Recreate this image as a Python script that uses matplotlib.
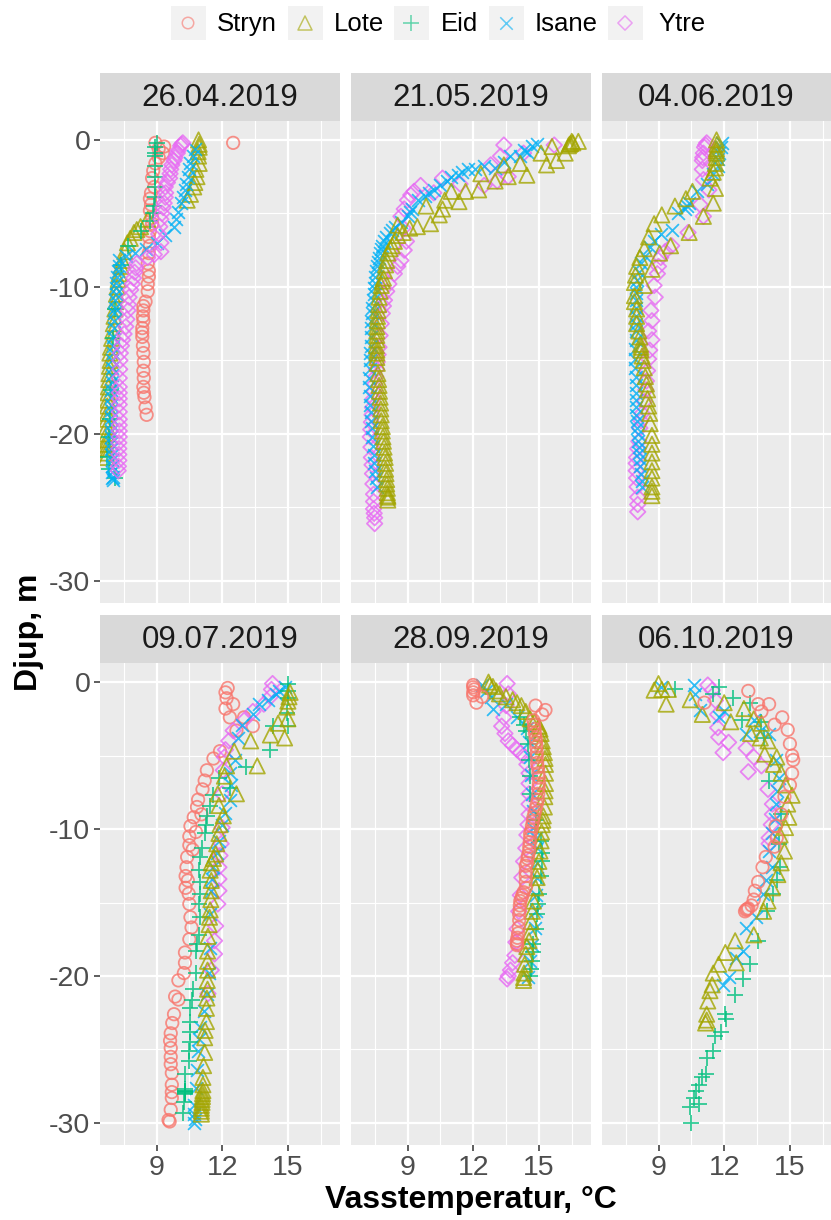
import matplotlib
matplotlib.use('Agg')
import matplotlib.pyplot as plt
from matplotlib.patches import Rectangle

plt.rcParams['font.family'] = ['Liberation Sans', 'DejaVu Sans']

# (temperature, depth), one list per site and date
stryn_0426 = [(12.5,-0.2),(8.95,-0.2),(9.35,-0.45),(9.1,-0.6),(9.3,-0.9),(9.1,-1.2),(8.95,-1.6),(8.85,-2.1),(8.8,-2.6),(8.9,-3.2),(8.75,-3.6),(8.7,-4),(8.75,-4.4),(8.7,-4.8),(8.8,-5.3),(8.8,-5.7),(8.7,-6.2),(8.65,-6.6),(8.7,-7.2),(8.65,-7.7),(8.6,-8.4),(8.65,-8.9),(8.65,-9.3),(8.6,-9.8),(8.6,-10.3),(8.5,-11),(8.4,-11.3),(8.4,-11.6),(8.38,-12),(8.4,-12.3),(8.35,-12.8),(8.35,-13.1),(8.35,-13.4),(8.38,-14),(8.4,-14.5),(8.42,-15.1),(8.4,-15.7),(8.42,-16.2),(8.4,-16.8),(8.42,-17.2),(8.45,-17.5),(8.5,-18.2),(8.55,-18.7)]
lote_0426 = [(10.92,0),(10.95,-0.3),(10.95,-0.5),(10.9,-0.8),(10.92,-1.1),(10.95,-1.6),(10.8,-2),(10.85,-2.5),(10.75,-2.9),(10.7,-3.2),(10.55,-3.7),(10.4,-4.1),(8.6,-5.4),(8.27,-5.9),(8.1,-6.1),(7.97,-6.3),(7.8,-6.7),(7.67,-7),(7.55,-7.6),(7.44,-8.2),(7.38,-8.6),(7.3,-9.1),(7.25,-9.5),(7.2,-10),(7.17,-10.5),(7.14,-11),(7.1,-11.5),(7.06,-12),(7.03,-12.5),(7,-13),(6.95,-13.5),(6.9,-14.1),(6.87,-14.5),(6.88,-15),(6.85,-15.4),(6.83,-15.9),(6.82,-16.3),(6.8,-16.8),(6.78,-17.2),(6.76,-17.7),(6.75,-18.1),(6.74,-18.6),(6.73,-19),(6.73,-19.5),(6.72,-20),(6.72,-20.4),(6.7,-20.7),(6.7,-21),(6.7,-21.3),(6.7,-21.6)]
eid_0426 = [(9,-0.2),(8.95,-0.5),(8.95,-0.9),(8.95,-1.1),(8.93,-1.8),(8.95,-2.5),(8.95,-3.2),(8.92,-3.9),(8.9,-4.5),(8.85,-5),(8.7,-5.5),(8.27,-6.2),(7.7,-7.2),(7.4,-8.5),(7.1,-11.5),(7,-13.5),(6.9,-17),(6.87,-19),(6.85,-20.2),(6.75,-21.6),(6.85,-22.4),(7.1,-23)]
isane_0426 = [(10.75,-0.6),(10.65,-1.1),(10.55,-1.6),(10.5,-2),(10.45,-2.5),(10.35,-3),(10.3,-3.4),(10.2,-3.9),(10.1,-4.3),(10,-4.9),(9.9,-5.4),(9.8,-5.9),(9.4,-6.5),(9,-7),(8.5,-7.4),(8,-7.7),(7.6,-7.9),(7.3,-8.2),(7.28,-8.6),(7.25,-8.9),(7.2,-9.3),(7.15,-9.7),(7.15,-10.1),(7.15,-10.5),(7.12,-10.9),(7.1,-11.4),(7.08,-11.8),(7.05,-12.3),(7.04,-12.8),(7.02,-13.4),(7,-14),(7,-14.5),(6.99,-15),(6.98,-15.5),(6.96,-16),(6.95,-16.5),(6.92,-17),(6.9,-17.5),(6.9,-18),(6.9,-18.4),(6.9,-18.9),(6.9,-19.3),(6.9,-19.8),(6.9,-20.2),(6.92,-20.6),(6.92,-21),(6.95,-21.4),(6.95,-21.8),(6.98,-22.2),(6.98,-22.6),(7,-22.9),(7,-23.1),(6.95,-23)]
ytre_0426 = [(10.2,-0.2),(10.15,-0.3),(10.1,-0.4),(10,-0.7),(9.95,-0.9),(9.85,-1.2),(9.8,-1.4),(9.7,-1.7),(9.65,-2),(9.62,-2.3),(9.6,-2.6),(9.5,-2.9),(9.4,-3.2),(9.42,-3.6),(9.4,-3.9),(9.35,-4.3),(9.3,-4.6),(9.25,-5),(9.2,-5.4),(9.15,-5.9),(9.1,-6.4),(9.2,-7),(9.2,-7.6),(8.9,-7.8),(8.6,-8),(8.1,-8.4),(8.05,-8.7),(8,-9),(7.95,-9.4),(7.9,-9.8),(7.82,-10.2),(7.75,-10.7),(7.72,-11.2),(7.7,-11.6),(7.65,-12.2),(7.6,-12.7),(7.52,-13.2),(7.45,-13.6),(7.4,-14),(7.35,-14.5),(7.33,-15),(7.32,-15.6),(7.3,-16.2),(7.3,-16.8),(7.3,-17.2),(7.3,-17.6),(7.3,-18),(7.3,-18.5),(7.3,-19),(7.3,-19.4),(7.3,-19.8),(7.3,-20.2),(7.28,-20.6),(7.28,-21),(7.28,-21.4),(7.28,-21.8),(7.26,-22.2),(7.25,-22.5)]

lote_0521 = [(16.8,-0.1),(16.55,-0.2),(16.45,-0.25),(16.4,-0.3),(16.35,-0.4),(16.5,-0.1),(16.2,-0.9),(15.8,-1.4),(15.6,-0.45),(15.35,-1.7),(15.1,-0.9),(14.45,-2.4),(14.15,-1.6),(13.6,-2.5),(13.4,-1.7),(13,-2.8),(12.35,-2.3),(12.25,-3.4),(11.65,-3.5),(11.35,-4.2),(11,-3.5),(10.7,-4.1),(10.6,-4.7),(10.45,-5.1),(10.05,-5.7),(9.85,-4.5),(9.45,-5.9),(9.1,-6),(8.8,-6.3),(8.55,-5.8),(8.55,-6.5),(8.4,-6.9),(8.3,-7.2),(8.2,-7.4),(8.1,-7.7),(8.05,-8.2),(8,-8.5),(7.95,-8.9),(7.9,-9.4),(7.85,-9.6),(7.8,-9.9),(7.75,-10.3),(7.7,-10.7),(7.68,-11.2),(7.65,-11.6),(7.63,-12),(7.62,-12.3),(7.6,-12.7),(7.6,-13),(7.6,-13.3),(7.6,-13.6),(7.58,-14),(7.6,-14.3),(7.6,-14.5),(7.6,-14.8),(7.62,-15.2),(7.65,-15.9),(7.68,-16.3),(7.7,-16.7),(7.72,-17.1),(7.75,-17.5),(7.77,-17.9),(7.78,-18.3),(7.8,-18.7),(7.8,-19.1),(7.85,-19.5),(7.85,-19.8),(7.88,-20.2),(7.9,-20.5),(7.93,-20.9),(7.95,-21.3),(7.98,-21.6),(8,-22),(8,-22.4),(8.02,-22.7),(8.05,-23.1),(8.05,-23.4),(8.08,-23.7),(8.08,-24),(8.1,-24.2),(8.1,-24.3),(8.1,-24.5)]
isane_0521 = [(14.9,-0.3),(14.7,-0.4),(14.45,-0.8),(14.3,-0.7),(14.15,-1.1),(13.7,-1.1),(13.4,-1.5),(13,-1.9),(12.5,-1.8),(12.1,-2),(11.75,-2),(11.5,-2.2),(11.3,-2.4),(11,-2.5),(10.8,-2.8),(10.5,-3.1),(10.2,-3.4),(10,-3.6),(9.8,-3.8),(9.5,-4.1),(9.2,-4.7),(9.1,-4.9),(9,-5.2),(8.7,-5.6),(8.45,-5.9),(8.3,-6.1),(8.2,-6.3),(8,-6.6),(7.92,-6.9),(7.85,-7.2),(7.8,-7.4),(7.75,-7.7),(7.7,-8),(7.65,-8.3),(7.6,-8.6),(7.55,-8.9),(7.52,-9.3),(7.5,-9.7),(7.47,-10.1),(7.45,-10.5),(7.42,-10.9),(7.4,-11.4),(7.38,-11.8),(7.35,-12.3),(7.34,-12.8),(7.33,-13.4),(7.32,-14),(7.3,-14.5),(7.28,-15),(7.27,-15.6),(7.26,-16.2),(7.25,-16.8),(7.27,-17.4),(7.3,-18),(7.33,-18.5),(7.35,-19.1),(7.38,-19.6),(7.4,-20.2),(7.42,-20.8),(7.45,-21.4),(7.48,-22),(7.5,-22.5),(7.55,-23),(7.6,-23.6)]
ytre_0521 = [(15.7,-0.35),(14.3,-0.9),(13.4,-0.35),(13.25,-1.1),(13.6,-2.5),(13.1,-2.8),(12.8,-1.7),(12.5,-3.1),(11.4,-3),(10.6,-2.6),(10.2,-3.6),(9.6,-3.1),(9.3,-3.5),(9.15,-3.75),(9,-4.1),(8.85,-4.7),(8.7,-5.2),(8.8,-6),(8.95,-6.9),(8.85,-7.5),(8.7,-8.2),(8.55,-8.6),(8.4,-9.1),(8.15,-9.8),(8.05,-10.3),(7.95,-10.9),(7.9,-11.3),(7.85,-11.8),(7.8,-12.5),(7.75,-13.3),(7.7,-14.1),(7.66,-14.6),(7.62,-15.1),(7.58,-15.6),(7.55,-16.1),(7.5,-16.6),(7.48,-17.1),(7.44,-17.6),(7.4,-18.2),(7.38,-18.7),(7.35,-19.2),(7.32,-19.7),(7.3,-20.2),(7.33,-20.9),(7.35,-21.6),(7.38,-22.1),(7.4,-22.7),(7.42,-23.4),(7.45,-24.1),(7.45,-24.6),(7.45,-25.1),(7.5,-25.7),(7.5,-26.1),(7.48,-25.4)]

lote_0604 = [(11.65,0),(11.67,-0.3),(11.65,-0.6),(11.63,-0.75),(11.65,-0.9),(11.63,-1.2),(11.6,-1.6),(11.6,-1.9),(11.5,-2.2),(11.35,-2.6),(11.6,-3.3),(11.5,-4.3),(11.05,-5.2),(10.4,-6.3),(10.55,-3.5),(10.25,-4),(9.75,-4.5),(9.15,-5.1),(8.8,-5.7),(8.55,-6.6),(8.35,-7.4),(9.55,-7.2),(9.05,-7.7),(8.15,-8),(8.7,-8.8),(8,-8.6),(7.95,-9.2),(7.9,-9.7),(8.35,-9.9),(7.9,-10.6),(7.9,-11),(8,-11.5),(8,-12),(8,-12.5),(8.1,-13),(8.15,-13.4),(8.18,-13.9),(8.2,-14.1),(8.2,-14.3),(8.25,-14.7),(8.3,-15),(8.35,-15.5),(8.4,-16.1),(8.45,-16.6),(8.5,-17),(8.5,-17.6),(8.55,-18.1),(8.6,-18.6),(8.62,-19.3),(8.7,-20.1),(8.7,-20.7),(8.7,-21.3),(8.7,-21.9),(8.7,-22.5),(8.7,-23),(8.7,-23.6),(8.7,-23.9),(8.7,-24.2)]
isane_0604 = [(11.9,-0.2),(11.85,-0.5),(11.75,-0.9),(11.72,-1.3),(11.7,-1.8),(11.5,-2.3),(11.2,-3),(10.75,-3.5),(10.4,-4.3),(10.3,-4.5),(10.2,-4.7),(9.9,-5),(9.6,-6.1),(9.1,-6.4),(8.8,-6.9),(8.6,-7.3),(8.4,-7.9),(8.2,-8.4),(8.1,-9),(8,-9.5),(7.97,-10),(7.95,-10.4),(7.95,-10.9),(7.95,-11.4),(7.95,-12),(7.95,-12.5),(7.95,-13),(7.95,-13.6),(7.93,-14.2),(7.92,-14.9),(7.93,-15.5),(7.95,-16.1),(7.95,-16.7),(7.95,-17.2),(7.97,-17.7),(7.98,-18.2),(7.98,-18.7),(8,-19.1),(8.03,-19.6),(8.05,-20),(8.07,-20.5),(8.1,-20.9),(8.12,-21.3),(8.15,-21.7),(8.17,-22.2),(8.2,-22.7),(8.23,-23.2),(8.26,-23.6)]
ytre_0604 = [(11.2,-0.2),(11.15,-0.35),(11.1,-0.5),(11.05,-0.9),(11.02,-1.2),(11,-1.4),(11,-2),(11.05,-2.7),(11.3,-3.4),(10.9,-4.4),(11.05,-5.2),(10.35,-6.3),(9.6,-7.2),(9.3,-7.6),(9.1,-8),(9,-8.6),(8.95,-9.1),(8.8,-9.9),(8.85,-10.7),(8.65,-11.6),(8.7,-12.3),(8.55,-13),(8.7,-13.6),(8.6,-14.3),(8.55,-14.9),(8.5,-15.7),(8.45,-16.4),(8.42,-17),(8.35,-17.8),(8.25,-18.6),(8.2,-19.1),(8.15,-19.6),(8.1,-20.5),(8.05,-21),(8,-21.6),(7.98,-22),(7.98,-22.5),(8,-23),(8.02,-23.6),(8.05,-24.3),(8.05,-24.8),(8.05,-25.3)]

stryn_0709 = [(12.25,-0.4),(12.15,-0.7),(12.2,-1.1),(12.15,-1.8),(12.5,-1.5),(12.35,-2.4),(13,-2.4),(13.4,-3),(12.65,-3.3),(11.9,-4.7),(11.6,-5.2),(11.3,-6),(11.2,-6.7),(11.1,-7.3),(10.9,-8),(10.85,-8.5),(11.05,-9),(10.7,-9.2),(10.55,-9.8),(10.8,-10.2),(10.5,-10.5),(10.5,-11.1),(10.65,-11.4),(10.4,-11.9),(10.37,-12.6),(10.33,-13.2),(10.43,-13.5),(10.33,-14),(10.47,-14.4),(10.5,-15.1),(10.55,-16),(10.6,-16.7),(10.5,-17.5),(10.3,-18.4),(10.3,-19.1),(10.25,-19.8),(10,-20.3),(9.85,-21.4),(10,-21.6),(9.8,-22.6),(9.72,-23.2),(9.65,-23.9),(9.62,-24.4),(9.65,-24.9),(9.65,-25.5),(9.65,-26),(9.7,-26.6),(9.7,-27.4),(9.7,-27.9),(9.7,-28.3),(9.65,-29.1),(9.55,-29.8),(9.6,-29.9)]
lote_0709 = [(15.1,-0.7),(15.05,-1),(15,-1.3),(14.95,-1.7),(15,-2.5),(14.55,-2.8),(14.85,-3.8),(14.2,-3.6),(13.6,-5.7),(13.3,-4),(12.55,-4.7),(12.2,-5.7),(12.1,-6.4),(12.65,-7.6),(11.8,-7.6),(11.85,-8.4),(12.05,-9.1),(11.9,-9.7),(11.85,-10.3),(11.75,-11),(11.7,-11.7),(11.6,-12),(11.5,-12.3),(11.45,-12.8),(11.5,-13.5),(11.5,-14.2),(11.48,-14.8),(11.45,-15.5),(11.42,-16),(11.4,-16.5),(11.35,-17.3),(11.33,-18.3),(11.33,-19),(11.33,-19.6),(11.32,-20.3),(11.33,-20.9),(11.3,-21.5),(11.28,-22.2),(11.28,-23.1),(11.22,-23.7),(11.2,-24.2),(11.2,-25.2),(11.15,-26.1),(11.12,-26.9),(11.12,-27.4),(11.12,-27.8),(11.1,-28),(11.1,-28.2),(11.08,-28.4),(11.08,-28.6),(11.05,-28.8),(11.05,-29),(11.05,-29.2),(11.05,-29.4)]
eid_0709 = [(15,-0.1),(15,-0.6),(15,-1.1),(14.95,-2.1),(15,-3),(14.3,-3),(14.2,-4.6),(13.1,-5.8),(12.35,-7.2),(11.85,-6.5),(11.6,-7.7),(11.45,-8.4),(11.3,-9.1),(11.25,-9.7),(11.2,-10.3),(11.1,-11.3),(11,-11.9),(10.95,-12.8),(11,-13.6),(10.97,-14.4),(10.95,-15.1),(10.97,-16),(10.95,-17.2),(10.85,-17.8),(10.8,-18.3),(10.8,-19.8),(10.65,-20.9),(10.6,-21.6),(10.55,-22.2),(10.55,-23.1),(10.55,-23.8),(10.52,-24.5),(10.5,-25.1),(10.5,-25.8),(10.3,-26.7),(10.28,-27.7),(10.28,-27.8),(10.28,-27.85),(10.28,-27.9),(10.28,-27.95),(10.28,-28),(10.25,-28.6),(10.2,-29.3)]
isane_0709 = [(14.85,-0.3),(14.6,-0.6),(14.45,-0.8),(14.1,-1.2),(13.7,-1.5),(13.4,-2.2),(12.9,-2.9),(12.7,-3.8),(12.6,-5.3),(12.35,-6.2),(12.4,-7),(12.35,-8),(12.15,-8.9),(12,-9.7),(11.85,-10.8),(11.75,-11.6),(11.6,-12.6),(11.55,-13.4),(11.5,-14.2),(11.45,-15.8),(11.45,-18.1),(11.4,-19.8),(11.3,-21.2),(11.15,-22.4),(11,-23.5),(10.95,-24.3),(10.9,-25.1),(10.85,-26.4),(10.8,-27.6),(10.7,-28.8),(10.7,-30),(10.75,-29.7),(10.7,-29.4)]
ytre_0709 = [(14.3,-0.1),(14.25,-0.5),(14.2,-1),(13.9,-1.5),(13.4,-2),(13,-2.6),(12.5,-3.3),(12.3,-4),(12.15,-4.6),(12.1,-5.1),(12.05,-6),(12,-7.6),(12,-9.9),(11.95,-11),(11.9,-11.8),(11.85,-12.6),(11.85,-13.4),(11.85,-14.2),(11.8,-15.1),(11.7,-16.6),(11.65,-17.6),(11.65,-18.5),(11.5,-19.6),(11.35,-21.2)]

stryn_0928 = [(12,-0.2),(12,-0.35),(12.05,-0.5),(12,-0.7),(12,-0.9),(12.15,-1.4),(12.4,-1),(14.85,-1.6),(15.3,-1.9),(15.15,-2.2),(14.75,-2.6),(14.78,-2.9),(14.8,-3.2),(14.82,-3.5),(14.85,-3.8),(14.87,-4.1),(14.88,-4.4),(14.9,-4.8),(14.9,-5.1),(14.92,-5.5),(14.95,-5.8),(14.98,-6.2),(15,-6.5),(15,-6.9),(14.98,-7.2),(14.97,-7.6),(14.95,-8),(14.9,-8.3),(14.85,-8.6),(14.8,-8.9),(14.75,-9.2),(14.72,-9.5),(14.68,-9.8),(14.65,-10.1),(14.6,-10.3),(14.6,-10.6),(14.58,-10.9),(14.56,-11.2),(14.55,-11.5),(14.5,-11.8),(14.48,-12),(14.45,-12.3),(14.4,-12.5),(14.4,-12.9),(14.4,-13.2),(14.4,-13.6),(14.4,-14),(14.3,-14.3),(14.25,-14.5),(14.2,-14.7),(14.15,-14.9),(14.13,-15.2),(14.12,-15.5),(14.1,-15.8),(14.1,-16.2),(14.08,-16.7),(14.05,-17.1),(14.02,-17.4),(14,-17.6),(14,-17.8),(14,-17.9)]
lote_0928 = [(12.7,0),(12.75,-0.2),(12.9,-0.3),(13.05,-0.6),(13.2,-0.8),(13.5,-1),(13.8,-1.2),(14,-1.4),(14.2,-1.6),(14.4,-2),(14.6,-2.5),(14.8,-2.7),(15,-3),(15.05,-3.2),(15.1,-3.5),(15.15,-4),(15.2,-4.4),(15.25,-4.8),(15.28,-5.2),(15.3,-5.6),(15.3,-6.2),(15.3,-6.9),(15.28,-7.4),(15.27,-7.8),(15.25,-8.5),(15.2,-9.1),(15.18,-9.4),(15.15,-9.7),(15.12,-10.2),(15.1,-10.8),(15.05,-11.5),(15,-12.2),(14.95,-12.8),(14.92,-13.3),(14.85,-14),(14.75,-14.9),(14.7,-15.6),(14.65,-16.3),(14.6,-17),(14.55,-17.6),(14.45,-18),(14.4,-18.5),(14.35,-19.2),(14.32,-19.8),(14.3,-20.1),(14.3,-20.3)]
eid_0928 = [(14.15,-2.4),(14.3,-2.9),(14.4,-3.3),(14.5,-4.2),(14.55,-5.3),(14.6,-6.4),(14.6,-7.6),(14.85,-9.4),(15.1,-10.8),(15.15,-11.6),(15.15,-12.2),(15.1,-13.2),(15,-14.4),(14.97,-15.1),(14.92,-15.8),(14.85,-16.8),(14.75,-17.8),(14.72,-18.4),(14.7,-19),(14.65,-19.5),(14.6,-20)]
isane_0928 = [(12.4,-0.2),(12.6,-0.6),(12.8,-1),(12.9,-1.8),(13.5,-1.5),(14,-2.4),(14.45,-3.1),(14.55,-4.1),(14.6,-5.1),(14.65,-6.3),(14.7,-7.6),(14.72,-8.8),(14.75,-9.9),(14.85,-10.6),(14.9,-11.3),(14.9,-12.3),(14.9,-13.3),(14.88,-14.5),(14.85,-15.6),(14.8,-16.7),(14.7,-17.9),(14.6,-19),(14.5,-20.1)]
ytre_0928 = [(13.55,-0.1),(13.6,-0.8),(13.5,-1.6),(13.4,-2.4),(13.3,-3),(13.45,-3.5),(13.6,-4),(13.8,-4.3),(14,-4.6),(14.15,-4.8),(14.3,-5),(14.45,-5.6),(14.55,-6.2),(14.55,-6.9),(14.55,-7.6),(14.55,-8.3),(14.55,-9),(14.5,-9.7),(14.45,-10.4),(14.4,-11.3),(14.3,-12.2),(14.22,-13.3),(14.15,-14.5),(14.08,-15.6),(14,-16.8),(13.95,-17.7),(13.9,-18.6),(13.8,-19.1),(13.7,-19.6),(13.6,-20),(13.55,-20.2)]

stryn_1006 = [(13.1,-0.6),(11.1,-1.4),(13.55,-1.5),(14.05,-1.5),(13.7,-2),(14.65,-2.4),(14.3,-2.9),(14.9,-3.25),(15,-4.2),(15.1,-5),(15.15,-5.3),(15.1,-6.2),(15,-7),(14.75,-7.8),(14.6,-9),(14.35,-9.8),(14.4,-10.6),(14.3,-11.2),(13.9,-11.9),(13.75,-12.6),(13.55,-13.6),(13.4,-14.2),(13.35,-14.8),(13.25,-15.2),(13.1,-15.4),(12.95,-15.6),(13,-15.5),(13.05,-15.45)]
lote_1006 = [(9,-0.1),(8.8,-0.55),(9.15,-0.5),(9.45,-0.5),(9.35,-1.5),(10.45,-1.2),(11,-2.2),(12,-1.4),(12.3,-2.7),(12.9,-1.8),(13.2,-3.5),(13.35,-2.5),(13.7,-2.8),(13.65,-3.8),(14,-4),(13.85,-4.9),(14.25,-5.6),(14.4,-5.1),(14.6,-6.2),(14.8,-7),(15.1,-7.7),(14.9,-8.3),(14.95,-9.2),(14.8,-9.9),(14.55,-10.4),(14.75,-11.5),(14.6,-12.3),(14.45,-13.1),(14.2,-14),(14,-14.9),(13.8,-15.6),(13.35,-17.2),(12.5,-17.6),(12.55,-19.1),(12.05,-18.4),(11.75,-19.2),(11.5,-19.8),(11.45,-20.6),(11.35,-21),(11.25,-21.7),(11.2,-22.6),(11.2,-23),(11.15,-23.2)]
eid_1006 = [(9.75,-0.45),(11.5,-0.8),(11.75,-0.35),(12.4,-1.1),(12.8,-2.6),(13.2,-1.4),(13.7,-2.7),(13.8,-3.8),(14.05,-6.7),(14.6,-9),(14.5,-11),(14.55,-12.6),(14.4,-13.5),(14.25,-14.4),(13.95,-15.6),(13.55,-17.6),(13.2,-19.2),(12.85,-20.2),(12.5,-21.3),(12.05,-22.6),(12.1,-22.9),(11.85,-23.8),(11.6,-24.1),(11.5,-25.1),(11.2,-25.6),(11.15,-26.7),(11,-26.9),(10.85,-27.4),(10.7,-27.8),(10.6,-28.3),(10.45,-28.9),(10.85,-28.7),(10.5,-30)]
isane_1006 = [(9.1,-0.3),(10.6,-0.2),(10.65,-0.8),(10.9,-1.9),(11.75,-2.4),(12,-2),(13,-3.5),(13.35,-2.6),(13.65,-3.3),(14.05,-3.5),(14.35,-5.3),(14.5,-6.5),(14.4,-7.4),(14.35,-8.3),(14.3,-9.3),(14.2,-10.3),(14.05,-11.5),(14.2,-12.6),(13.9,-13.5),(13.75,-14.4),(13.45,-16),(13,-16.7),(12.85,-18.3),(12.55,-18.8),(12.2,-20.1),(11.95,-20.6)]
ytre_1006 = [(11.25,-0.2),(11.45,-0.55),(11.6,-1.25),(11.7,-2.2),(11.7,-3.1),(11.75,-3.75),(12.2,-4.1),(11.95,-4.8),(13,-4.5),(13.35,-5.1),(13.7,-5.7),(13.1,-6.1),(14,-7.3),(14.2,-8.3),(14.2,-9),(14.15,-9.7),(14.05,-10.6),(14.05,-11)]

dates = ['26.04.2019', '21.05.2019', '04.06.2019', '09.07.2019', '28.09.2019', '06.10.2019']
sites = ['Stryn', 'Lote', 'Eid', 'Isane', 'Ytre']
x_ticks = [9, 12, 15]
x_minor = [7.5, 10.5, 13.5, 16.5]
y_ticks = [0, -10, -20, -30]
y_minor = [-5, -15, -25]

panel_data = [
    {'Stryn': stryn_0426, 'Lote': lote_0426, 'Eid': eid_0426, 'Isane': isane_0426, 'Ytre': ytre_0426},
    {'Ytre': ytre_0521, 'Isane': isane_0521, 'Lote': lote_0521},
    {'Ytre': ytre_0604, 'Isane': isane_0604, 'Lote': lote_0604},
    {'Stryn': stryn_0709, 'Ytre': ytre_0709, 'Isane': isane_0709, 'Eid': eid_0709, 'Lote': lote_0709},
    {'Ytre': ytre_0928, 'Isane': isane_0928, 'Eid': eid_0928, 'Lote': lote_0928, 'Stryn': stryn_0928},
    {'Ytre': ytre_1006, 'Eid': eid_1006, 'Isane': isane_1006, 'Lote': lote_1006, 'Stryn': stryn_1006},
]

# ggplot default hues and shapes
colors = {'Stryn': '#F8766D', 'Lote': '#A3A500', 'Eid': '#00BF7D', 'Isane': '#00B0F6', 'Ytre': '#E76BF3'}
markers = {'Stryn': 'o', 'Lote': '^', 'Eid': '+', 'Isane': 'x', 'Ytre': 'D'}
sizes = {'Stryn': 80, 'Lote': 120, 'Eid': 130, 'Isane': 85, 'Ytre': 62}

W, H = 831, 1220
fig = plt.figure(figsize=(W / 100, H / 100), dpi=100, facecolor='white')


def pixel_axes(x0, y0, x1, y1):
    return fig.add_axes([x0 / W, 1 - y1 / H, (x1 - x0) / W, (y1 - y0) / H])


# overlay in pixel coordinates for strips, legend and titles
over = fig.add_axes([0, 0, 1, 1], zorder=5)
over.set_xlim(0, W)
over.set_ylim(H, 0)
over.axis('off')

lefts = [100, 351, 602]
rows = [(120.5, 603), (662.7, 1145)]
strip_tops = [73, 615]
px_per_deg = 21.9

for i, date in enumerate(dates):
    col = i % 3
    row = i // 3
    left = lefts[col]
    right = min(left + 240, W)
    top, bottom = rows[row]
    ax = pixel_axes(left, top, right, bottom)
    ax.set_facecolor('#EBEBEB')
    ax.set_xlim(6.42, 6.42 + (right - left) / px_per_deg)
    ax.set_ylim(-31.5, 1.32)
    ax.set_xticks(x_ticks)
    ax.set_xticks(x_minor, minor=True)
    ax.set_yticks(y_ticks)
    ax.set_yticks(y_minor, minor=True)
    ax.grid(True, which='major', color='white', lw=1.6)
    ax.grid(True, which='minor', color='white', lw=0.8)
    ax.set_axisbelow(True)
    for s in ax.spines.values():
        s.set_visible(False)
    ax.tick_params(which='minor', length=0)
    ax.tick_params(which='major', length=4, width=1.1, color='#333333',
                   labelsize=20.5, labelcolor='#4D4D4D', pad=3)
    if col != 0:
        ax.tick_params(axis='y', which='major', left=False, labelleft=False)
    if row == 0:
        ax.tick_params(axis='x', which='major', bottom=False, labelbottom=False)
    ax.set_yticklabels(['0', '-10', '-20', '-30'])

    for site, pts in panel_data[i].items():
        temp = [p[0] for p in pts]
        depth = [p[1] for p in pts]
        if markers[site] in '+x':
            ax.scatter(temp, depth, marker=markers[site], s=sizes[site], color=colors[site],
                       linewidths=1.3, alpha=0.8, clip_on=True)
        else:
            ax.scatter(temp, depth, marker=markers[site], s=sizes[site], facecolors='none',
                       edgecolors=colors[site], linewidths=1.3, alpha=0.8, clip_on=True)

    over.add_patch(Rectangle((left, strip_tops[row]), right - left, 47.5, facecolor='#D9D9D9', edgecolor='none'))
    over.text((left + min(left + 240, W)) / 2, strip_tops[row] + 25, date, ha='center', va='center',
              fontsize=22.5, color='#1A1A1A')

# legend
key_x = [171, 288, 394, 489, 608]
label_x = [217, 334, 441, 535, 658]
for site, kx, lx in zip(sites, key_x, label_x):
    over.add_patch(Rectangle((kx, 6), 34.5, 34, facecolor='#F2F2F2', edgecolor='none'))
    if markers[site] in '+x':
        over.scatter([kx + 17], [23], marker=markers[site], s=sizes[site] * 0.95, color=colors[site],
                     linewidths=1.1, alpha=0.6)
    else:
        over.scatter([kx + 17], [23], marker=markers[site], s=sizes[site] * 0.85, facecolors='none',
                     edgecolors=colors[site], linewidths=1.1, alpha=0.6)
    over.text(lx, 24, site, ha='left', va='center', fontsize=18.5, color='black')

over.text(29, 632, 'Djup, m', rotation=90, ha='center', va='center', fontsize=23, fontweight='bold', color='black')
over.text(471, 1200, 'Vasstemperatur, °C', ha='center', va='center', fontsize=23, fontweight='bold', color='black')

fig.savefig('out.png', dpi=100)
